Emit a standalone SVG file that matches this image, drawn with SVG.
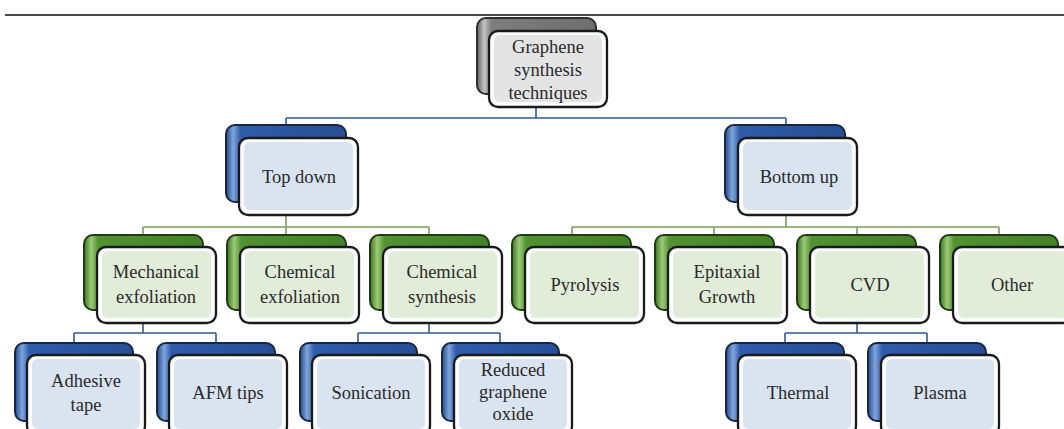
<svg xmlns="http://www.w3.org/2000/svg" width="1064" height="429" viewBox="0 0 1064 429">
<defs>
<linearGradient id="gBlue" x1="0" y1="0" x2="1" y2="0">
<stop offset="0" stop-color="#23498c"/><stop offset="0.06" stop-color="#7fa6dd"/><stop offset="0.12" stop-color="#2f5ca8"/><stop offset="1" stop-color="#264f96"/>
</linearGradient>
<linearGradient id="gGreen" x1="0" y1="0" x2="1" y2="0">
<stop offset="0" stop-color="#3a7420"/><stop offset="0.06" stop-color="#9ccb76"/><stop offset="0.12" stop-color="#529231"/><stop offset="1" stop-color="#448227"/>
</linearGradient>
<linearGradient id="gGray" x1="0" y1="0" x2="1" y2="0">
<stop offset="0" stop-color="#5f5f5f"/><stop offset="0.06" stop-color="#c4c4c4"/><stop offset="0.12" stop-color="#7e7e7e"/><stop offset="1" stop-color="#6e6e6e"/>
</linearGradient>
<style>
.bb{stroke:#1a2540;stroke-width:2}
.bg{stroke:#203a17;stroke-width:2}
.bk{stroke:#2e2e2e;stroke-width:2}
.fr{fill:#fbfcfd;stroke:#1a1a1a;stroke-width:2.3}
.tb{fill:#dae3f0}
.tg{fill:#e1ecd9}
.tk{fill:#e4e4e4}
.t{font-family:"Liberation Serif","Times New Roman",serif;font-size:18.5px;fill:#2a2a2a;text-anchor:middle}
.cb{stroke:#2f5a98;stroke-width:1.6;fill:none}
.cg{stroke:#76a055;stroke-width:1.6;fill:none}
</style>
</defs>
<rect width="1064" height="429" fill="#fff"/>
<line x1="5" y1="15" x2="1064" y2="15" stroke="#4a4a4a" stroke-width="2.2"/>
<g id="connectors">
<path class="cb" d="M536 107V118M286 118H786M286 118V125M786 118V125"/>
<path class="cg" d="M286 215V227M143 227H429M143 227V235M286 227V235M429 227V235"/>
<path class="cg" d="M786 215V227M572 227H999M572 227V235M714 227V235M857 227V235M999 227V235"/>
<path class="cb" d="M143 323V333M74 333H216M74 333V343M216 333V343"/>
<path class="cb" d="M429 323V333M358 333H500M358 333V343M500 333V343"/>
<path class="cb" d="M857 323V333M785 333H927M785 333V343M927 333V343"/>
</g>
<g id="root">
<rect x="477" y="18" width="119" height="76" rx="9" fill="url(#gGray)" class="bk"/>
<rect x="489" y="31" width="118" height="76" rx="9" class="fr"/>
<rect x="494" y="35" width="108" height="67" rx="6" class="tk"/>
<text class="t" x="548" y="53">Graphene</text><text class="t" x="548" y="76">synthesis</text><text class="t" x="548" y="99">techniques</text>
</g>
<g id="topdown">
<rect x="226" y="125" width="120" height="77" rx="9" fill="url(#gBlue)" class="bb"/>
<rect x="239" y="138" width="119" height="77" rx="9" class="fr"/>
<rect x="244" y="142" width="109" height="68" rx="6" class="tb"/>
<text class="t" x="299" y="183">Top down</text>
</g>
<g id="bottomup">
<rect x="725" y="125" width="120" height="77" rx="9" fill="url(#gBlue)" class="bb"/>
<rect x="738" y="138" width="119" height="77" rx="9" class="fr"/>
<rect x="743" y="142" width="109" height="68" rx="6" class="tb"/>
<text class="t" x="799" y="183">Bottom up</text>
</g>
<g id="mechanical">
<rect x="84" y="235" width="119" height="75" rx="9" fill="url(#gGreen)" class="bg"/>
<rect x="97" y="247" width="119" height="76" rx="9" class="fr"/>
<rect x="102" y="251" width="109" height="67" rx="6" class="tg"/>
<text class="t" x="156" y="278">Mechanical</text><text class="t" x="156" y="303">exfoliation</text>
</g>
<g id="chemexf">
<rect x="227" y="235" width="119" height="75" rx="9" fill="url(#gGreen)" class="bg"/>
<rect x="240" y="247" width="119" height="76" rx="9" class="fr"/>
<rect x="245" y="251" width="109" height="67" rx="6" class="tg"/>
<text class="t" x="300" y="278">Chemical</text><text class="t" x="300" y="303">exfoliation</text>
</g>
<g id="chemsyn">
<rect x="370" y="235" width="119" height="75" rx="9" fill="url(#gGreen)" class="bg"/>
<rect x="383" y="247" width="119" height="76" rx="9" class="fr"/>
<rect x="388" y="251" width="109" height="67" rx="6" class="tg"/>
<text class="t" x="442" y="278">Chemical</text><text class="t" x="442" y="303">synthesis</text>
</g>
<g id="pyrolysis">
<rect x="512" y="235" width="119" height="75" rx="9" fill="url(#gGreen)" class="bg"/>
<rect x="525" y="247" width="119" height="76" rx="9" class="fr"/>
<rect x="530" y="251" width="109" height="67" rx="6" class="tg"/>
<text class="t" x="585" y="291">Pyrolysis</text>
</g>
<g id="epitaxial">
<rect x="655" y="235" width="119" height="75" rx="9" fill="url(#gGreen)" class="bg"/>
<rect x="668" y="247" width="119" height="76" rx="9" class="fr"/>
<rect x="673" y="251" width="109" height="67" rx="6" class="tg"/>
<text class="t" x="727" y="278">Epitaxial</text><text class="t" x="727" y="303">Growth</text>
</g>
<g id="cvd">
<rect x="797" y="235" width="119" height="75" rx="9" fill="url(#gGreen)" class="bg"/>
<rect x="810" y="247" width="119" height="76" rx="9" class="fr"/>
<rect x="815" y="251" width="109" height="67" rx="6" class="tg"/>
<text class="t" x="870" y="291">CVD</text>
</g>
<g id="other">
<rect x="940" y="235" width="118" height="75" rx="9" fill="url(#gGreen)" class="bg"/>
<rect x="953" y="247" width="119" height="76" rx="9" class="fr"/>
<rect x="958" y="251" width="109" height="67" rx="6" class="tg"/>
<text class="t" x="1012" y="291">Other</text>
</g>
<g id="adhesive">
<rect x="15" y="343" width="118" height="78" rx="9" fill="url(#gBlue)" class="bb"/>
<rect x="27" y="355" width="118" height="80" rx="9" class="fr"/>
<rect x="32" y="359" width="108" height="70" rx="6" class="tb"/>
<text class="t" x="86" y="387">Adhesive</text><text class="t" x="86" y="411">tape</text>
</g>
<g id="afm">
<rect x="157" y="343" width="118" height="78" rx="9" fill="url(#gBlue)" class="bb"/>
<rect x="169" y="355" width="118" height="80" rx="9" class="fr"/>
<rect x="174" y="359" width="108" height="70" rx="6" class="tb"/>
<text class="t" x="228" y="399">AFM tips</text>
</g>
<g id="sonication">
<rect x="300" y="343" width="117" height="78" rx="9" fill="url(#gBlue)" class="bb"/>
<rect x="312" y="355" width="118" height="80" rx="9" class="fr"/>
<rect x="317" y="359" width="108" height="70" rx="6" class="tb"/>
<text class="t" x="371" y="399">Sonication</text>
</g>
<g id="reduced">
<rect x="442" y="343" width="117" height="78" rx="9" fill="url(#gBlue)" class="bb"/>
<rect x="454" y="355" width="118" height="80" rx="9" class="fr"/>
<rect x="459" y="359" width="108" height="70" rx="6" class="tb"/>
<text class="t" x="513" y="376">Reduced</text><text class="t" x="513" y="398">graphene</text><text class="t" x="513" y="420">oxide</text>
</g>
<g id="thermal">
<rect x="726" y="343" width="118" height="78" rx="9" fill="url(#gBlue)" class="bb"/>
<rect x="738" y="355" width="118" height="80" rx="9" class="fr"/>
<rect x="743" y="359" width="108" height="70" rx="6" class="tb"/>
<text class="t" x="798" y="399">Thermal</text>
</g>
<g id="plasma">
<rect x="868" y="343" width="118" height="78" rx="9" fill="url(#gBlue)" class="bb"/>
<rect x="881" y="355" width="118" height="80" rx="9" class="fr"/>
<rect x="886" y="359" width="108" height="70" rx="6" class="tb"/>
<text class="t" x="940" y="399">Plasma</text>
</g>
</svg>
